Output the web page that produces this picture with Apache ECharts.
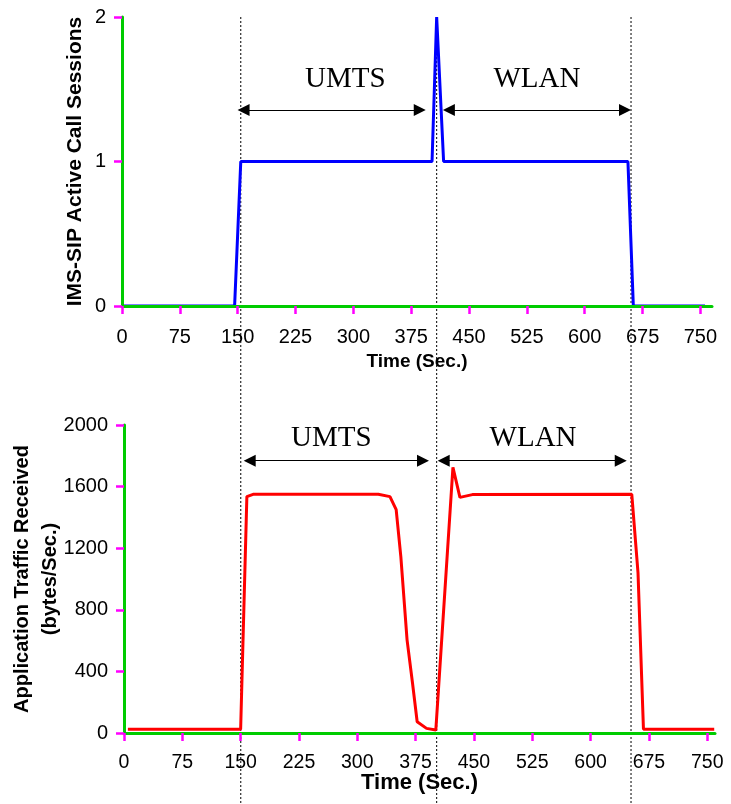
<!DOCTYPE html>
<html>
<head>
<meta charset="utf-8">
<script src="https://cdn.jsdelivr.net/npm/echarts@6/dist/echarts.min.js"></script>
<style>
html,body{margin:0;padding:0;background:#fff;}
#chart{width:731px;height:804px;}
</style>
</head>
<body>
<div id="chart"></div>
<script>
// ---- data ----
const timeTicks = [0, 75, 150, 225, 300, 375, 450, 525, 600, 675, 750];

const sessionTime = [0, 146, 154, 402, 408, 417, 656, 663, 756];
const sessionValue = [0, 0, 1, 1, 2, 1, 1, 0, 0];

const trafficTime = [5, 150, 158, 166, 327, 342, 350, 356, 364, 371, 377, 389, 401, 423, 432, 448, 653, 661, 668, 759];
const trafficValue = [25, 25, 1535, 1550, 1550, 1535, 1450, 1145, 605, 325, 73, 30, 20, 1725, 1530, 1548, 1550, 1040, 25, 25];

const handoverTimes = [154, 408, 660];
const handoverSpan = [2, -3.45];
const phaseNames = ['UMTS', 'WLAN'];
const topArrowLevel = 1.356;
const topArrowSpans = [[157.6, 386.1], [423.8, 652.2]];
const topLabelLevel = 1.571;
const topLabelTimes = [289.5, 538];
const botArrowLevel = 1768;
const botArrowSpans = [[161.6, 384.5], [411.1, 638.8]];
const botLabelLevel = 1916;
const botLabelTimes = [266.5, 526];

const chart = echarts.init(document.getElementById('chart'));

function zip(a, b) { return a.map((v, i) => [v, b[i]]); }

function makeAxisLine() { return {show: true, onZero: false, lineStyle: {color: '#00cc00', width: 3}}; }
function makeAxisTick(extra) {
  return Object.assign({show: true, length: 8, lineStyle: {color: '#ff00ff', width: 2.5}}, extra || {});
}
const plainNum = v => String(v);

function arrowLines(spans, level) {
  return spans.map(s => [{coord: [s[0], level]}, {coord: [s[1], level]}]);
}
function phaseLabels(times, level) {
  return times.map((t, i) => ({name: phaseNames[i], coord: [t, level]}));
}

const arrowMarkLine = (spans, level) => ({
  silent: true,
  symbol: ['triangle', 'triangle'],
  symbolSize: 12,
  lineStyle: {color: '#000', width: 1, type: 'solid'},
  itemStyle: {color: '#000'},
  label: {show: false},
  emphasis: {disabled: true},
  data: arrowLines(spans, level)
});

const labelMarkPoint = (times, level) => ({
  silent: true,
  symbol: 'circle',
  symbolSize: 1,
  itemStyle: {color: 'rgba(0,0,0,0)'},
  label: {
    show: true, position: 'inside', formatter: '{b}',
    fontFamily: 'Liberation Serif', fontSize: 29, color: '#000'
  },
  data: phaseLabels(times, level)
});

const dottedSeries = handoverTimes.map(t => ({
  type: 'line', xAxisIndex: 0, yAxisIndex: 0,
  data: handoverSpan.map(v => [t, v]),
  symbol: 'none', clip: false, silent: true, z: 1,
  lineStyle: {color: '#000', width: 1, type: [2, 2]},
  emphasis: {disabled: true}
}));

const option = {
  animation: false,
  grid: [
    {left: 122, right: 19, top: 17, bottom: 498, containLabel: false, outerBoundsMode: 'none'},
    {left: 124, right: 16, top: 425, bottom: 71, containLabel: false, outerBoundsMode: 'none'}
  ],
  xAxis: [
    {
      gridIndex: 0, type: 'value', min: 0, max: 765, z: 10,
      axisLine: makeAxisLine(),
      axisTick: makeAxisTick({customValues: timeTicks}),
      axisLabel: {customValues: timeTicks, margin: 21, formatter: plainNum,
        fontFamily: 'Liberation Sans', fontSize: 20, color: '#000'},
      splitLine: {show: false},
      name: 'Time (Sec.)', nameLocation: 'middle', nameGap: 46, nameMoveOverlap: false,
      nameTextStyle: {fontFamily: 'Liberation Sans', fontWeight: 'bold', fontSize: 19, color: '#000'}
    },
    {
      gridIndex: 1, type: 'value', min: 0, max: 760, z: 10,
      axisLine: makeAxisLine(),
      axisTick: makeAxisTick({customValues: timeTicks}),
      axisLabel: {customValues: timeTicks, margin: 20, formatter: plainNum,
        fontFamily: 'Liberation Sans', fontSize: 19.5, color: '#000'},
      splitLine: {show: false},
      name: 'Time (Sec.)', nameLocation: 'middle', nameGap: 39, nameMoveOverlap: false,
      nameTextStyle: {fontFamily: 'Liberation Sans', fontWeight: 'bold', fontSize: 22, color: '#000'}
    }
  ],
  yAxis: [
    {
      gridIndex: 0, type: 'value', min: 0, max: 2, interval: 1, z: 10,
      axisLine: makeAxisLine(),
      axisTick: makeAxisTick(),
      axisLabel: {margin: 16, formatter: plainNum, fontFamily: 'Liberation Sans', fontSize: 20, color: '#000'},
      splitLine: {show: false},
      name: 'IMS-SIP Active Call Sessions', nameLocation: 'middle', nameGap: 36, nameRotate: 90, nameMoveOverlap: false,
      nameTextStyle: {fontFamily: 'Liberation Sans', fontWeight: 'bold', fontSize: 21, color: '#000'}
    },
    {
      gridIndex: 1, type: 'value', min: 0, max: 2000, interval: 400, z: 10,
      axisLine: makeAxisLine(),
      axisTick: makeAxisTick(),
      axisLabel: {margin: 16, formatter: plainNum, fontFamily: 'Liberation Sans', fontSize: 20, color: '#000'},
      splitLine: {show: false},
      name: 'Application Traffic Received\n(bytes/Sec.)', nameLocation: 'middle', nameGap: 60, nameRotate: 90, nameMoveOverlap: false,
      nameTextStyle: {fontFamily: 'Liberation Sans', fontWeight: 'bold', fontSize: 20, lineHeight: 28, color: '#000', align: 'center'}
    }
  ],
  series: [
    {
      type: 'line', xAxisIndex: 0, yAxisIndex: 0,
      data: zip(sessionTime, sessionValue),
      symbol: 'none', clip: false,
      lineStyle: {color: '#0000ff', width: 3},
      markLine: arrowMarkLine(topArrowSpans, topArrowLevel),
      markPoint: labelMarkPoint(topLabelTimes, topLabelLevel)
    },
    {
      type: 'line', xAxisIndex: 1, yAxisIndex: 1,
      data: zip(trafficTime, trafficValue),
      symbol: 'none', clip: false,
      lineStyle: {color: '#ff0000', width: 3},
      markLine: arrowMarkLine(botArrowSpans, botArrowLevel),
      markPoint: labelMarkPoint(botLabelTimes, botLabelLevel)
    }
  ].concat(dottedSeries)
};
chart.setOption(option);
</script>
</body>
</html>
